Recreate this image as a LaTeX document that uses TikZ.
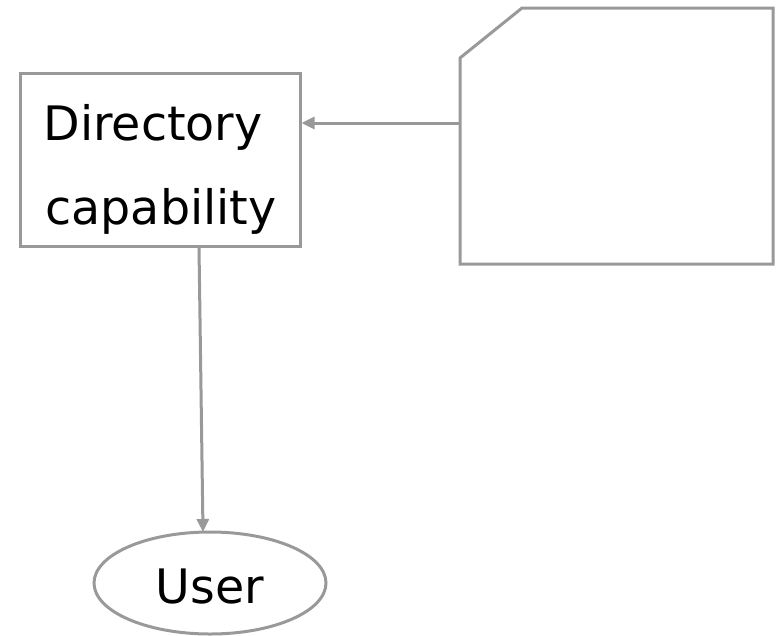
\documentclass[tikz,border=0pt]{standalone}
\usepackage{fontspec}
\setmainfont{DejaVu Sans}
\usetikzlibrary{arrows.meta,shapes.geometric}
\definecolor{lc}{RGB}{153,153,153}
\tikzset{
  line/.style={draw=lc,line width=3pt},
  arr/.style={line,-{Triangle[length=13pt,width=12pt]}},
  lbl/.style={font=\fontsize{47.5}{85}\selectfont,text=black,inner sep=0pt}
}
\begin{document}
\begin{tikzpicture}[x=1pt,y=1pt]
\useasboundingbox (0,0) rectangle (782,-635);
% directory box
\node[line,rectangle,minimum width=280pt,minimum height=173pt,inner sep=0pt] (box) at (160,-159.5) {};
\node[lbl,anchor=base] (t1) at (153,-140) {Directory};
\node[lbl,anchor=base] (t2) at (161,-224) {capability};
% card
\draw[line,line join=miter] (460,-58) -- (522,-8) -- (773,-8) -- (773,-264) -- (460,-264) -- cycle;
\coordinate (cardL) at (460,-123);
\coordinate (boxR) at (301.5,-123);
% user ellipse
\node[line,ellipse,minimum width=232pt,minimum height=102pt,inner sep=0pt] (user) at (210,-583) {};
\node[lbl,anchor=base] (t3) at (210,-603) {User};
\coordinate (b1) at (199,-247.5);
\coordinate (u1) at (203,-532);
\draw[arr] (cardL) -- (boxR);
\draw[arr] (b1) -- (u1);
\end{tikzpicture}
\end{document}
